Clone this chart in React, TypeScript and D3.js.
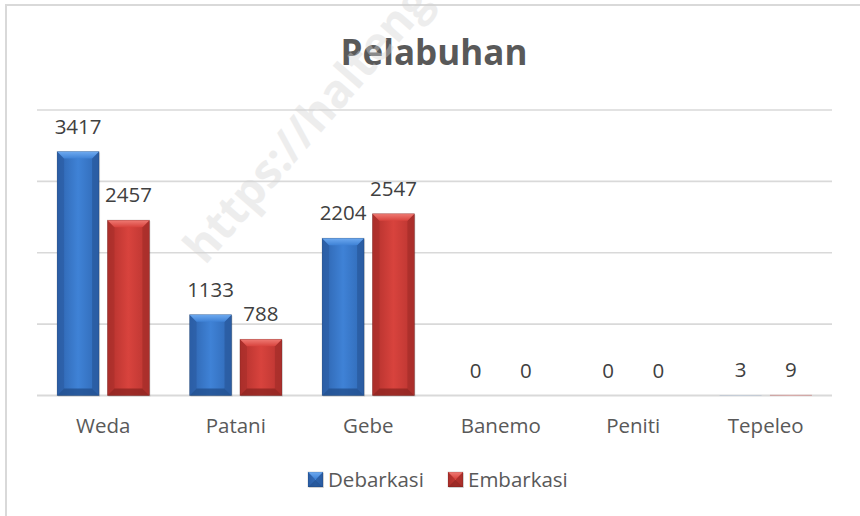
import React from "react";
import * as d3 from "d3";

const categories = ["Weda", "Patani", "Gebe", "Banemo", "Peniti", "Tepeleo"];
const debarkasi = [3417, 1133, 2204, 0, 0, 3];
const embarkasi = [2457, 788, 2547, 0, 0, 9];
const seriesNames = ["Debarkasi", "Embarkasi"];
const yTicks = [0, 1000, 2000, 3000, 4000];
const titleText = "Pelabuhan";
const watermarkText = "https://haltengkab.go.id";

const W = 860;
const H = 516;
const FONT = "'Open Sans', 'Noto Sans', sans-serif";

const palettes = [
  { id: "blue", body: ["#2d63ad", "#3f82d6", "#2f68b4"], top: "#6eaaf0", side: "#2a5a9e", bottom: "#23508f" },
  { id: "red", body: ["#b1302c", "#d8433d", "#b83430"], top: "#ef7b74", side: "#a52d2a", bottom: "#8f2522" },
];

function BevelBar({ x, y, w, h, p }: { x: number; y: number; w: number; h: number; p: (typeof palettes)[0] }) {
  if (h <= 0) return null;
  if (h < 2) {
    return <rect x={x} y={y} width={w} height={h} fill={`url(#body-${p.id})`} opacity={0.6} />;
  }
  const d = Math.min(7, h / 2, w / 2);
  const topPts = `${x},${y} ${x + w},${y} ${x + w - d},${y + d} ${x + d},${y + d}`;
  const botPts = `${x},${y + h} ${x + w},${y + h} ${x + w - d},${y + h - d} ${x + d},${y + h - d}`;
  const leftPts = `${x},${y} ${x + d},${y + d} ${x + d},${y + h - d} ${x},${y + h}`;
  const rightPts = `${x + w},${y} ${x + w - d},${y + d} ${x + w - d},${y + h - d} ${x + w},${y + h}`;
  return (
    <g>
      <rect x={x + 1} y={y + 1} width={w} height={h} fill="rgba(0,0,0,0.12)" />
      <rect x={x} y={y} width={w} height={h} fill={`url(#body-${p.id})`} />
      <polygon points={leftPts} fill={p.side} opacity={0.55} />
      <polygon points={rightPts} fill={p.side} opacity={0.75} />
      <polygon points={botPts} fill={p.bottom} opacity={0.8} />
      <polygon points={topPts} fill={`url(#top-${p.id})`} />
      <rect x={x} y={y} width={w} height={h} fill="none" stroke="rgba(0,0,0,0.18)" strokeWidth={0.8} />
    </g>
  );
}

export default function App() {
  const plotLeft = 37;
  const plotRight = 832;
  const y0 = 395.5;
  const yTop = 110;

  const x = d3.scaleBand<string>().domain(categories).range([plotLeft, plotRight]).padding(0);
  const y = d3.scaleLinear().domain([0, 4000]).range([y0, yTop]);
  const band = x.bandwidth();
  const barW = band * 0.317;
  const gap = band * 0.063;
  const series = [debarkasi, embarkasi];

  return (
    <svg width={W} height={H} style={{ position: "absolute", left: 0, top: 0, background: "#fff" }} fontFamily={FONT}>
      <defs>
        {palettes.map((p) => (
          <React.Fragment key={p.id}>
            <linearGradient id={`body-${p.id}`} x1="0" x2="1" y1="0" y2="0">
              <stop offset="0%" stopColor={p.body[0]} />
              <stop offset="50%" stopColor={p.body[1]} />
              <stop offset="100%" stopColor={p.body[2]} />
            </linearGradient>
            <linearGradient id={`top-${p.id}`} x1="0" x2="0" y1="0" y2="1">
              <stop offset="0%" stopColor={p.top} />
              <stop offset="100%" stopColor={p.body[1]} />
            </linearGradient>
          </React.Fragment>
        ))}
      </defs>

      {/* chart border */}
      <rect x={6} y={5} width={W + 10} height={H + 10} fill="#fff" stroke="#d9d9d9" strokeWidth={2} />

      {/* title */}
      <text x={434} y={65} textAnchor="middle" fontSize={35} fontWeight={700} fill="#595959">
        {titleText}
      </text>

      {/* gridlines */}
      {yTicks.map((t) => (
        <line key={t} x1={plotLeft} x2={plotRight} y1={y(t)} y2={y(t)} stroke="#d9d9d9" strokeWidth={t === 0 ? 2 : 1.6} />
      ))}

      {/* bars */}
      {categories.map((c, i) => {
        const center = (x(c) as number) + band / 2;
        const groupW = barW * 2 + gap;
        return (
          <g key={c}>
            {series.map((s, si) => {
              const bx = center - groupW / 2 + si * (barW + gap);
              const v = s[i];
              const by = y(v);
              return (
                <g key={si}>
                  <BevelBar x={bx} y={by} w={barW} h={y0 - by} p={palettes[si]} />
                  <text x={bx + barW / 2} y={by - 18} textAnchor="middle" fontSize={20.5} fill="#404040">
                    {v}
                  </text>
                </g>
              );
            })}
            <text x={center} y={433} textAnchor="middle" fontSize={20.5} fill="#595959">
              {c}
            </text>
          </g>
        );
      })}

      {/* legend */}
      {seriesNames.map((n, i) => {
        const lx = i === 0 ? 308 : 448;
        return (
          <g key={n}>
            <BevelBar x={lx} y={472} w={15} h={15} p={palettes[i]} />
            <text x={lx + 20} y={487} fontSize={20.5} fill="#595959">
              {n}
            </text>
          </g>
        );
      })}

      {/* watermark */}
      <text
        x={205}
        y={266}
        transform="rotate(-49 205 266)"
        fontSize={46}
        fontWeight={700}
        fill="#d4d4d4"
        opacity={0.4}
      >
        {watermarkText}
      </text>
    </svg>
  );
}
